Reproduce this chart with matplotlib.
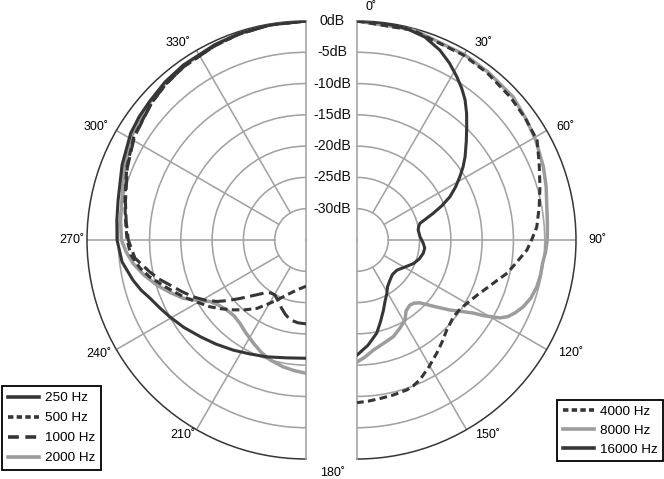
import numpy as np
import matplotlib
matplotlib.use('Agg')
import matplotlib.pyplot as plt
from matplotlib.lines import Line2D

plt.rcParams['font.family'] = ['Liberation Sans', 'DejaVu Sans']

# ---------------- data (angle in degrees, level in dB) ----------------
ang_250 = [180, 189.6, 198.6, 206.2, 213.5, 220.9, 227.6, 234.4, 240.6, 245, 249.5, 253.1, 257,
           263.2, 270, 276, 282, 292.2, 301.3, 306.4, 311.6, 318.3, 325, 335, 342, 350.5, 360]
db_250 = [-16.1, -15.9, -15.3, -14.7, -13.9, -13.0, -12.1, -11.0, -10.0, -9.25, -8.4, -7.45, -6.6,
          -5.4, -4.8, -4.6, -4.3, -3.25, -2.2, -1.85, -1.6, -1.15, -0.85, -0.55, -0.3, -0.12, 0]

ang_500 = [180, 189.2, 196.7, 206, 211.2, 215.8, 221.1, 226.1, 230.8, 235.2, 240.5, 245.2, 251.3,
           256.8, 260.4, 265.1, 270, 276, 282, 292, 301, 311.6, 318, 325, 335, 342, 350.5, 360]
db_500 = [-27.6, -27.0, -26.1, -24.3, -22.95, -21.5, -20.2, -18.9, -17.6, -16.3, -14.9, -13.4, -11.4,
          -9.3, -8.1, -6.9, -6.4, -6.0, -5.4, -4.1, -2.9, -2.0, -1.5, -1.1, -0.7, -0.4, -0.15, 0]

ang_1000 = [180, 185.5, 191.3, 195.4, 199.6, 204.7, 209.4, 213.4, 216.9, 223.7, 228.5, 232.2, 235.4,
            239.3, 243.3, 247.5, 251.7, 255.1, 258.5, 264, 270, 276, 282, 292, 301, 311.6, 318, 325,
            335, 342, 350.5, 360]
db_1000 = [-21.6, -21.7, -22.0, -22.65, -23.4, -24.3, -24.9, -24.85, -24.5, -22.7, -20.9, -19.2, -17.7,
           -16.2, -14.8, -13.5, -12.1, -10.7, -9.5, -7.5, -6.6, -6.1, -5.5, -4.2, -3.0, -2.0, -1.5, -1.1,
           -0.7, -0.4, -0.15, 0]

ang_2000 = [180, 185.3, 190.2, 196.7, 201.9, 207, 212.8, 218.4, 223.5, 228.6, 233.2, 237.3, 241, 244.6,
            248.9, 253.2, 257.8, 262.3, 266.2, 270, 276, 282, 292, 301, 311.6, 318, 325, 335, 342, 350.5, 360]
db_2000 = [-13.7, -14.05, -14.4, -15.0, -15.7, -16.5, -17.3, -18.0, -18.3, -18.1, -17.6, -16.8, -15.1, -13.3,
           -11.7, -10.1, -8.5, -7.1, -6.2, -5.5, -5.2, -4.9, -3.7, -2.55, -1.75, -1.3, -0.95, -0.6, -0.35, -0.12, 0]

ang_4000 = [0, 15, 30, 38, 47, 54, 61, 67.1, 73.8, 79.7, 85.9, 90, 93.4, 97.8, 102.4, 106.1, 110, 114.8,
            119.8, 124.5, 128.7, 131.9, 135, 140, 144.7, 150.4, 155.8, 159, 161.6, 166.9, 171.7, 175.7, 180]
db_4000 = [0, -0.3, -0.9, -1.15, -1.5, -1.8, -2.1, -3.4, -4.55, -5.4, -6.2, -7.1, -7.8, -9.2, -10.4, -11.7,
           -12.8, -13.9, -14.7, -15.2, -15.3, -15.0, -14.7, -13.8, -12.9, -11.7, -10.5, -10.0, -9.75, -9.55,
           -9.4, -9.2, -9.0]

ang_8000 = [0, 15, 30, 38, 47.5, 54.8, 61, 68.6, 74.3, 80, 84.9, 90, 93.6, 97, 100.8, 104.6, 108.4, 112,
            114.8, 117, 118.6, 119.5, 120.9, 122.2, 124.4, 127, 130.5, 135, 137.9, 141, 145.4, 149, 153.9,
            159.4, 166, 171.6, 176.1, 180]
db_8000 = [0, -0.2, -0.75, -0.95, -1.15, -1.8, -2.3, -3.0, -3.6, -4.2, -4.45, -4.6, -4.8, -5.1, -5.15, -5.3,
           -5.7, -6.4, -7.2, -8.0, -9.0, -10.0, -11.5, -13.1, -14.8, -16.4, -18.6, -20.8, -21.4, -21.6, -21.2,
           -20.1, -19.35, -18.5, -17.9, -17.2, -16.25, -15.5]

ang_16000 = [0, 6.8, 13.2, 18.5, 23.6, 27.6, 31.4, 34.5, 37.6, 40.8, 44.1, 48, 52.4, 55.4, 58.4, 61.7, 65,
             67.9, 70.7, 72.8, 75.2, 77.6, 80.7, 87.3, 92.8, 96.8, 101.3, 106.9, 112.5, 119.4, 127, 134.2,
             140.5, 146.7, 150.9, 155.5, 159.4, 164, 168, 174, 180]
db_16000 = [0, -0.05, -0.3, -0.8, -1.9, -3.1, -4.4, -5.5, -6.7, -8.2, -9.8, -11.5, -13.2, -14.4, -15.7, -17.1,
            -18.6, -20.3, -22.1, -23.4, -24.6, -24.9, -25.1, -24.9, -24.4, -24.1, -24.2, -24.6, -25.2, -26.2,
            -27.0, -27.1, -26.7, -26.1, -25.2, -24.2, -23.0, -21.4, -19.8, -18.1, -16.6]

ring_levels = [-30, -25, -20, -15, -10, -5, 0]
ring_labels = ['-30dB', '-25dB', '-20dB', '-15dB', '-10dB', '-5dB', '0dB']
right_angles = [0, 30, 60, 90, 120, 150, 180]
left_angles = [210, 240, 270, 300, 330]

# ---------------- styles ----------------
DARK = '#363636'
GRAY = '#9c9c9c'
GRID = '#a2a2a2'
LW = 2.2
SHORT = (2.5, 1.4)
LONG = (4.5, 1.8)

W, H = 664, 479
fig = plt.figure(figsize=(W / 100, H / 100), dpi=100)
fig.patch.set_facecolor('white')

R = 219      # outer radius in px
CY = 240     # centre row (px from top)
CX_L, CX_R = 306, 357
RMIN, RMAX = -35, 0


def make_half(cx, right):
    left = cx - R / 2 if right else cx - 1.5 * R
    bottom = H - (CY + R)
    ax = fig.add_axes([left / W, bottom / H, 2 * R / W, 2 * R / H], projection='polar')
    ax.set_theta_zero_location('N')
    ax.set_theta_direction(-1)
    if right:
        ax.set_thetamin(0)
        ax.set_thetamax(180)
    else:
        ax.set_thetamin(180)
        ax.set_thetamax(360)
    ax.set_ylim(RMIN, RMAX)
    ax.set_rgrids(ring_levels[:-1], labels=[''] * (len(ring_levels) - 1))
    ax.set_xticks([])
    ax.yaxis.grid(True, color=GRID, lw=1.15)
    ax.xaxis.grid(False)
    ax.patch.set_alpha(0)
    ax.spines['polar'].set_color(DARK)
    ax.spines['polar'].set_linewidth(1.1)
    for s in ('start', 'end'):
        ax.spines[s].set_color(GRID)
        ax.spines[s].set_linewidth(1.15)
    ax.spines['inner'].set_visible(False)
    return ax


axR = make_half(CX_R, True)
axL = make_half(CX_L, False)

# spokes from the -30 dB ring to the outer ring
for a in [30, 60, 90, 120, 150]:
    axR.plot([np.deg2rad(a)] * 2, [ring_levels[0], RMAX], color=GRID, lw=1.15, zorder=1)
for a in left_angles:
    axL.plot([np.deg2rad(a)] * 2, [ring_levels[0], RMAX], color=GRID, lw=1.15, zorder=1)


def curve(ax, ang, db, **kw):
    return ax.plot(np.deg2rad(ang), db, solid_capstyle='round', solid_joinstyle='round',
                   zorder=3, **kw)[0]


curve(axL, ang_2000, db_2000, color=GRAY, lw=2.5)
curve(axL, ang_250, db_250, color=DARK, lw=LW)
curve(axL, ang_1000, db_1000, color=DARK, lw=LW, dashes=LONG)
curve(axL, ang_500, db_500, color=DARK, lw=LW, dashes=SHORT)

curve(axR, ang_8000, db_8000, color=GRAY, lw=2.5)
curve(axR, ang_4000, db_4000, color=DARK, lw=LW, dashes=SHORT)
curve(axR, ang_16000, db_16000, color=DARK, lw=LW)

# dB labels between the halves
for lev, lab in zip(ring_levels, ring_labels):
    axL.annotate(lab, xy=(np.deg2rad(360), lev), xytext=(26.5 * 0.72, 0),
                 textcoords='offset points', ha='center', va='center', fontsize=10.2,
                 color='#111111')

# angle labels
PX = 0.72
r_off = {0: (8, 14), 30: (8.5, 7), 60: (10, 3.5), 90: (12, 0), 120: (11, -3.5), 150: (8.5, -5.5)}
for a in right_angles:
    if a == 180:
        axR.annotate(f'{a}˚', xy=(np.deg2rad(a), RMAX), xytext=(-24 * PX, -14 * PX),
                     textcoords='offset points', ha='center', va='center', fontsize=9)
    else:
        dx, dy = r_off[a]
        axR.annotate(f'{a}˚', xy=(np.deg2rad(a), RMAX), xytext=(dx * PX, dy * PX),
                     textcoords='offset points', ha='left', va='center', fontsize=9)
l_off = {210: (-1, -5.5), 240: (-5, -4.5), 270: (-3, 0), 300: (-8, 3.5), 330: (-6.5, 7)}
for a in left_angles:
    dx, dy = l_off[a]
    axL.annotate(f'{a}˚', xy=(np.deg2rad(a), RMAX), xytext=(dx * PX, dy * PX),
                 textcoords='offset points', ha='right', va='center', fontsize=9)


# legends
def handle(color, lw, dashes=None):
    h = Line2D([], [], color=color, lw=lw)
    if dashes:
        h.set_dashes(dashes)
    return h


LEG_FS = 9.7
left_handles = [handle(DARK, 2.6), handle(DARK, 2.6, (1.5, 0.9)), handle(DARK, 2.6, (3.0, 1.8)),
                handle(GRAY, 2.6)]
left_names = ['250 Hz', '500 Hz', '1000 Hz', '2000 Hz']
legL = fig.legend(left_handles, left_names, loc='lower left',
                  bbox_to_anchor=(2 / W, 1 - 470 / H), borderaxespad=0, fontsize=LEG_FS,
                  handlelength=2.35, handletextpad=0.45, labelspacing=0.56, borderpad=0.42,
                  fancybox=False, framealpha=1, edgecolor='black')
legL.get_frame().set_linewidth(1.3)

right_handles = [handle(DARK, 2.6, (1.5, 0.9)), handle(GRAY, 2.6), handle(DARK, 2.6)]
right_names = ['4000 Hz', '8000 Hz', '16000 Hz']
legR = fig.legend(right_handles, right_names, loc='lower right',
                  bbox_to_anchor=(663 / W, 1 - 461 / H), borderaxespad=0, fontsize=LEG_FS,
                  handlelength=2.35, handletextpad=0.45, labelspacing=0.5, borderpad=0.38,
                  fancybox=False, framealpha=1, edgecolor='black')
legR.get_frame().set_linewidth(1.3)

fig.savefig('out.png', dpi=100, facecolor='white')
